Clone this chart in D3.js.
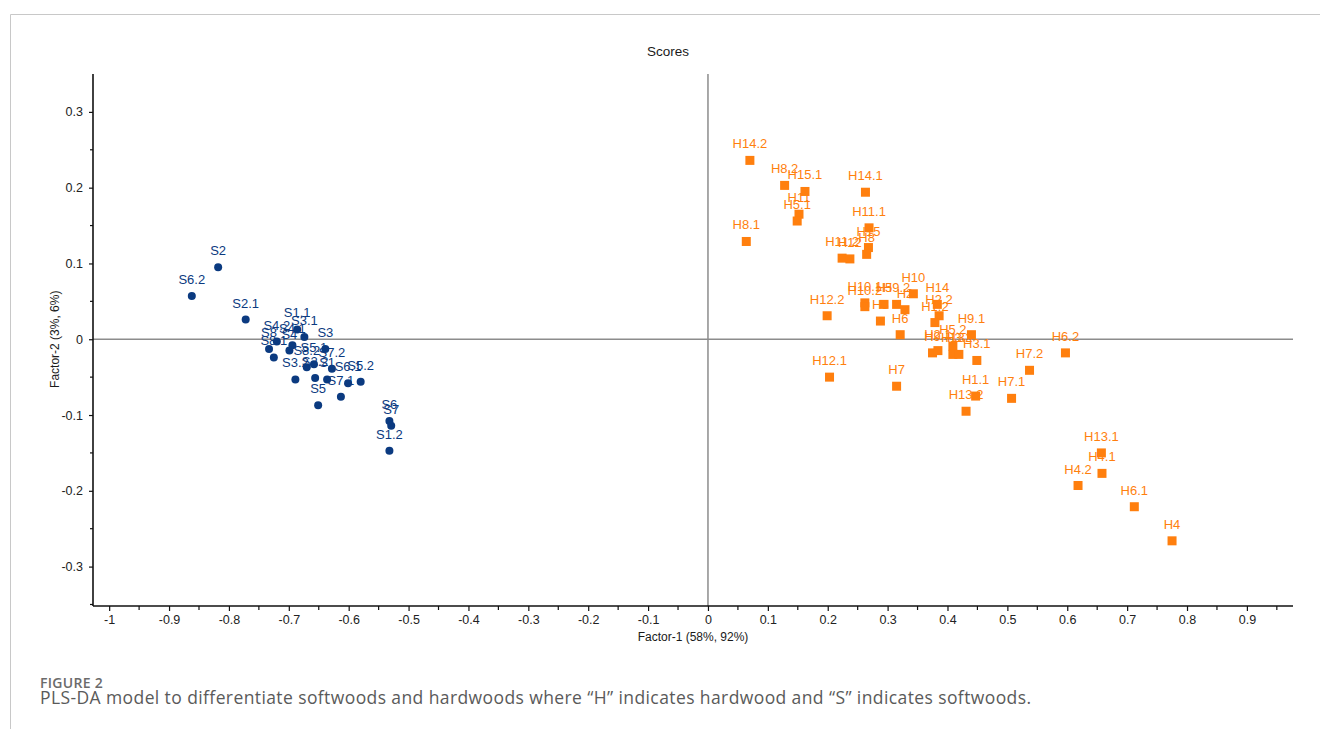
<!DOCTYPE html>
<html>
<head>
<meta charset="utf-8">
<script src="https://cdn.jsdelivr.net/npm/d3@7"></script>
<style>
  html, body { margin: 0; padding: 0; background: #fff; }
  svg { display: block; }
</style>
</head>
<body>
<svg id="chart" width="1320" height="729"></svg>
<script>
// Softwood sample scores (Factor-1, Factor-2)
const softLabels = ["S2","S6.2","S2.1","S1.1","S3.1","S4.1","S4","S4.2","S8","S8.1","S3","S8.2",
  "S5.1","S7.2","S3.2","S2.2","S1","S6.1","S5.2","S7.1","S5","S6","S7","S1.2"];
const softF1 = [-0.818,-0.862,-0.772,-0.686,-0.674,-0.694,-0.699,-0.720,-0.733,-0.725,-0.639,-0.670,
  -0.658,-0.628,-0.689,-0.656,-0.636,-0.601,-0.580,-0.613,-0.651,-0.532,-0.529,-0.532];
const softF2 = [0.095,0.057,0.026,0.013,0.003,-0.008,-0.015,-0.003,-0.013,-0.024,-0.013,-0.037,
  -0.033,-0.039,-0.053,-0.051,-0.053,-0.058,-0.056,-0.076,-0.087,-0.108,-0.114,-0.147];

// Hardwood sample scores (Factor-1, Factor-2)
const hardLabels = ["H14.2","H8.2","H15.1","H14.1","H11","H5.1","H8.1","H11.1","H15","H8","H11.2","H12",
  "H10.1","H10.2","H5","H9.2","H2","H10","H3","H6","H14","H2.2","H1.2","H9.1","H5.2","H9","H2.1",
  "H13","H3.2","H3.1","H1.1","H13.2","H12.2","H12.1","H7","H6.2","H7.2","H7.1","H13.1","H4.1",
  "H4.2","H6.1","H4"];
const hardF1 = [0.070,0.128,0.162,0.263,0.152,0.149,0.064,0.269,0.268,0.265,0.224,0.237,
  0.262,0.262,0.294,0.315,0.329,0.343,0.288,0.321,0.383,0.386,0.379,0.440,0.409,0.375,0.384,
  0.409,0.419,0.449,0.447,0.431,0.199,0.203,0.315,0.597,0.537,0.507,0.657,0.658,
  0.618,0.712,0.775];
const hardF2 = [0.236,0.203,0.195,0.194,0.165,0.156,0.129,0.147,0.121,0.112,0.107,0.106,
  0.048,0.043,0.046,0.046,0.039,0.060,0.024,0.006,0.046,0.031,0.022,0.006,-0.009,-0.018,-0.015,
  -0.020,-0.020,-0.028,-0.075,-0.095,0.031,-0.050,-0.062,-0.018,-0.041,-0.078,-0.150,-0.177,
  -0.193,-0.221,-0.266];

const xTicks = [-1,-0.9,-0.8,-0.7,-0.6,-0.5,-0.4,-0.3,-0.2,-0.1,0,0.1,0.2,0.3,0.4,0.5,0.6,0.7,0.8,0.9];
const yTicks = [-0.3,-0.2,-0.1,0,0.1,0.2,0.3];

const softColor = "#0b3a80";
const hardColor = "#ff7f0e";
const font = "Arial, 'Liberation Sans', sans-serif";

const svg = d3.select("#chart");

// page frame
svg.append("path")
  .attr("d", "M10.5,730 V14.5 H1321")
  .attr("fill", "none").attr("stroke", "#c8c8c8").attr("stroke-width", 1);

const plotL = 93, plotR = 1293, plotT = 74, plotB = 606;
const x = d3.scaleLinear().domain([-1.027, 0.977]).range([plotL, plotR]);
const y = d3.scaleLinear().domain([-0.352, 0.35]).range([plotB, plotT]);

// zero reference lines
svg.append("line")
  .attr("x1", plotL).attr("x2", plotR).attr("y1", y(0)).attr("y2", y(0))
  .attr("stroke", "#8c8c8c").attr("stroke-width", 1.5);
svg.append("line")
  .attr("x1", x(0)).attr("x2", x(0)).attr("y1", plotT).attr("y2", plotB)
  .attr("stroke", "#8c8c8c").attr("stroke-width", 1.5);

// x axis
const fmt = d => d === 0 ? "0" : String(+d.toFixed(1));
const xAxis = d3.axisBottom(x).tickValues(xTicks).tickFormat(fmt).tickSize(5).tickSizeOuter(0).tickPadding(4);
const gx = svg.append("g").attr("transform", `translate(0,${plotB})`).call(xAxis);
const xMinor = d3.range(-0.95, 0.96, 0.1);
gx.selectAll(".minor").data(xMinor).join("line")
  .attr("class", "minor")
  .attr("x1", d => x(d)).attr("x2", d => x(d)).attr("y1", 0).attr("y2", 4)
  .attr("stroke", "#111").attr("stroke-width", 1.2);

// y axis
const yAxis = d3.axisLeft(y).tickValues(yTicks).tickFormat(fmt).tickSize(4).tickSizeOuter(0).tickPadding(6);
const gy = svg.append("g").attr("transform", `translate(${plotL},0)`).call(yAxis);
const yMinor = [-0.35,-0.25,-0.15,-0.05,0.05,0.15,0.25];
gy.selectAll(".minor").data(yMinor).join("line")
  .attr("class", "minor")
  .attr("x1", -3).attr("x2", 0).attr("y1", d => y(d)).attr("y2", d => y(d))
  .attr("stroke", "#111").attr("stroke-width", 1.2);

[gx, gy].forEach(g => {
  g.select(".domain").attr("stroke", "#111").attr("stroke-width", 1.6);
  g.selectAll(".tick line").attr("stroke", "#111").attr("stroke-width", 1.2);
  g.selectAll(".tick text").attr("font-family", font).attr("font-size", 12.5).attr("fill", "#222");
});
gx.select(".domain").attr("d", `M${plotL},0H${plotR}`);
gy.select(".domain").attr("d", `M0,${plotT}V${plotB}`);

// titles
svg.append("text").attr("x", 668).attr("y", 56).attr("text-anchor", "middle")
  .attr("font-family", font).attr("font-size", 13.5).attr("fill", "#1a1a1a").text("Scores");
svg.append("text").attr("x", (plotL + plotR) / 2).attr("y", 641).attr("text-anchor", "middle")
  .attr("font-family", font).attr("font-size", 12).attr("fill", "#1a1a1a").text("Factor-1 (58%, 92%)");
svg.append("text").attr("transform", `translate(59,${y(0)}) rotate(-90)`).attr("text-anchor", "middle")
  .attr("font-family", font).attr("font-size", 12).attr("fill", "#1a1a1a").text("Factor-2 (3%, 6%)");

const soft = softLabels.map((l, i) => ({ label: l, f1: softF1[i], f2: softF2[i] }));
const hard = hardLabels.map((l, i) => ({ label: l, f1: hardF1[i], f2: hardF2[i] }));

// sample labels (drawn beneath the markers)
const labels = svg.append("g").attr("font-family", font).attr("font-size", 13).attr("text-anchor", "middle");
labels.selectAll(".sl").data(soft).join("text").attr("class", "sl")
  .attr("x", d => x(d.f1)).attr("y", d => y(d.f2) - 12).attr("fill", softColor).text(d => d.label);
labels.selectAll(".hl").data(hard).join("text").attr("class", "hl")
  .attr("x", d => x(d.f1)).attr("y", d => y(d.f2) - 12).attr("fill", hardColor).text(d => d.label);

// markers
svg.append("g").selectAll("circle").data(soft).join("circle")
  .attr("cx", d => x(d.f1)).attr("cy", d => y(d.f2)).attr("r", 4).attr("fill", softColor);
const sq = 9;
svg.append("g").selectAll("rect").data(hard).join("rect")
  .attr("x", d => x(d.f1) - sq / 2).attr("y", d => y(d.f2) - sq / 2)
  .attr("width", sq).attr("height", sq).attr("fill", hardColor);

// caption
svg.append("text").attr("x", 40).attr("y", 688)
  .attr("font-family", "'Open Sans', sans-serif").attr("font-weight", 600).attr("font-size", 14)
  .attr("letter-spacing", 0.3).attr("fill", "#6b6b6b").text("FIGURE 2");
svg.append("text").attr("x", 40).attr("y", 704)
  .attr("font-family", "'Open Sans', sans-serif").attr("font-size", 17.5).attr("letter-spacing", 0.4)
  .attr("fill", "#5a5a5a")
  .text("PLS-DA model to differentiate softwoods and hardwoods where \u201cH\u201d indicates hardwood and \u201cS\u201d indicates softwoods.");
</script>
</body>
</html>
